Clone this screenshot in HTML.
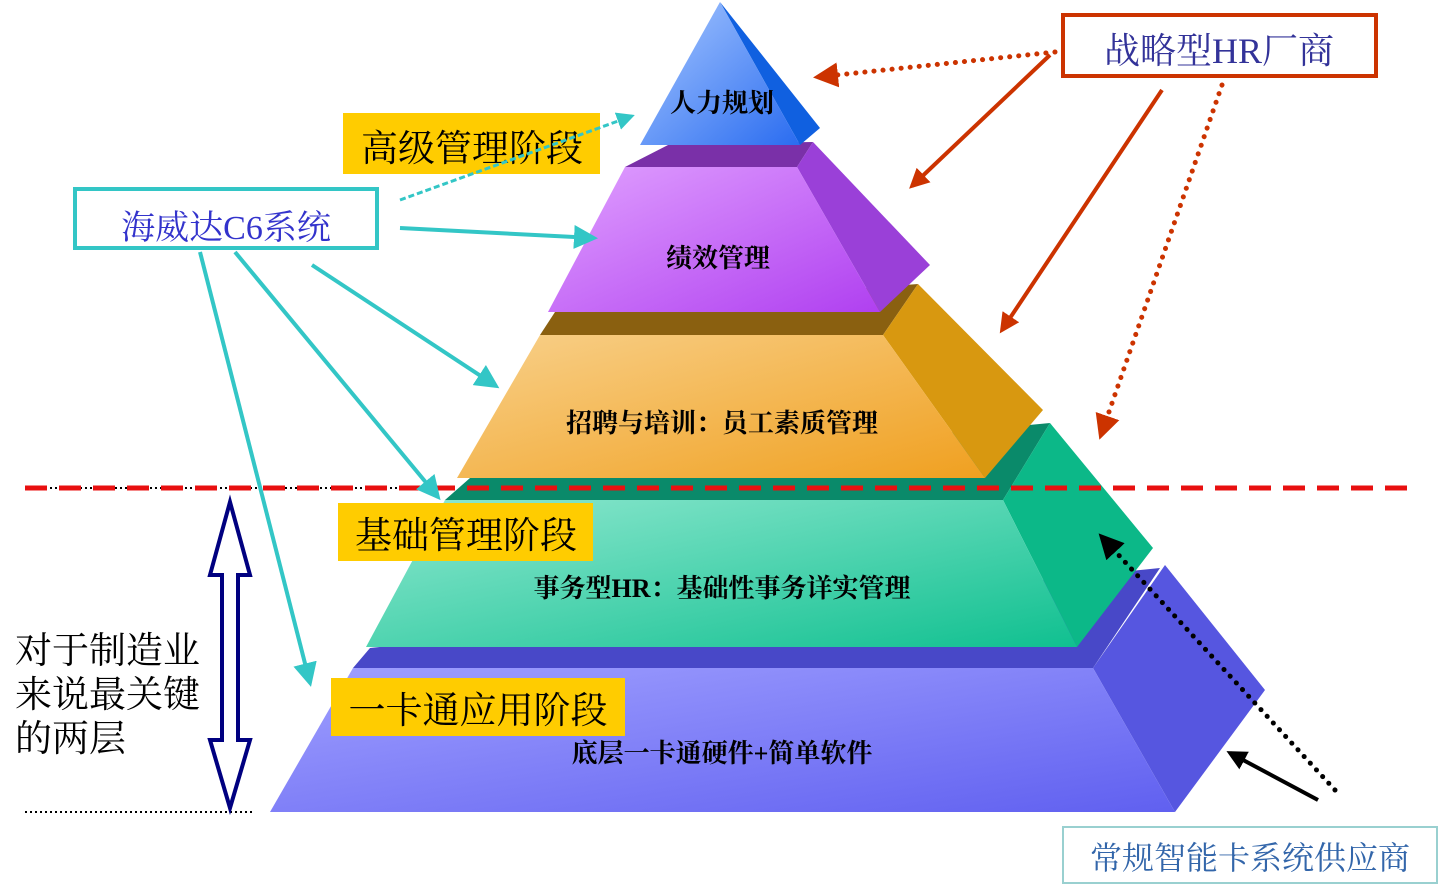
<!DOCTYPE html>
<html><head><meta charset="utf-8"><style>
body{margin:0;background:#fff;}
svg text{font-family:"Liberation Serif","Noto Serif CJK SC",serif;}
</style></head><body>
<svg width="1440" height="885" viewBox="0 0 1440 885" xmlns="http://www.w3.org/2000/svg">
<defs>
<linearGradient id="gb" x1="0" y1="0" x2="1" y2="1"><stop offset="0" stop-color="#a8c8ff"/><stop offset="1" stop-color="#2a6cf0"/></linearGradient>
<linearGradient id="gp" x1="0" y1="0" x2="1" y2="1"><stop offset="0" stop-color="#e0a0ff"/><stop offset="1" stop-color="#b040f0"/></linearGradient>
<linearGradient id="go" x1="0" y1="0" x2="1" y2="1"><stop offset="0" stop-color="#f8d08a"/><stop offset="1" stop-color="#f0a020"/></linearGradient>
<linearGradient id="gg" x1="0" y1="0" x2="1" y2="1"><stop offset="0" stop-color="#90e8d0"/><stop offset="1" stop-color="#10c090"/></linearGradient>
<linearGradient id="gv" x1="0" y1="0" x2="1" y2="1"><stop offset="0" stop-color="#a0a0ff"/><stop offset="1" stop-color="#6060f0"/></linearGradient>
<marker id="at" markerWidth="6" markerHeight="6" refX="5" refY="3" orient="auto" markerUnits="strokeWidth"><path d="M0,0 L6,3 L0,6 z" fill="#33C6C6"/></marker>
<marker id="ar" markerWidth="5" markerHeight="5" refX="4" refY="2.5" orient="auto" markerUnits="strokeWidth"><path d="M0,0 L5,2.5 L0,5 z" fill="#CC3300"/></marker>
<marker id="ak" markerWidth="5" markerHeight="5" refX="4" refY="2.5" orient="auto" markerUnits="strokeWidth"><path d="M0,0 L5,2.5 L0,5 z" fill="#000"/></marker>
</defs>
<polygon points="353,668 370,648 1160,568 1093,668" fill="#4848c8"/>
<polygon points="1093,668 1165,565 1265,690 1175,812" fill="#5656e0"/>
<polygon points="353,668 1093,668 1175,812 270,812" fill="url(#gv)"/>
<polygon points="445,500 470,478 1050,423 1003,500" fill="#0a8a6a"/>
<polygon points="1003,500 1050,423 1153,548 1077,647" fill="#0cb888"/>
<polygon points="445,500 1003,500 1077,647 366,647" fill="url(#gg)"/>
<polygon points="540,335 555,312 918,284 883,335" fill="#8a6010"/>
<polygon points="883,335 918,284 1043,410 985,478" fill="#d89810"/>
<polygon points="540,335 883,335 985,478 457,478" fill="url(#go)"/>
<polygon points="625,167 670,144 813,142 797,167" fill="#7a30a8"/>
<polygon points="797,167 813,142 930,265 880,312" fill="#9a40d8"/>
<polygon points="625,167 797,167 880,312 548,312" fill="url(#gp)"/>
<polygon points="720,2 820,128 800,145" fill="#1060e0"/>
<polygon points="720,2 800,145 640,145" fill="url(#gb)"/>
<line x1="25" y1="488" x2="440" y2="488" stroke="#000" stroke-width="2" stroke-dasharray="2,3"/>
<line x1="25" y1="488" x2="1410" y2="488" stroke="#e81010" stroke-width="5" stroke-dasharray="22,12"/>
<line x1="25" y1="812" x2="255" y2="812" stroke="#000" stroke-width="2" stroke-dasharray="2,3"/>
<polygon points="230,502 250,575 238,575 238,740 250,740 230,808 210,740 222,740 222,575 210,575" fill="#fff" stroke="#000080" stroke-width="4"/>
<g font-size="26" fill="#000" font-weight="bold">
<text x="722" y="112" text-anchor="middle">人力规划</text>
<text x="718" y="267" text-anchor="middle">绩效管理</text>
<text x="722" y="432" text-anchor="middle">招聘与培训：员工素质管理</text>
<text x="722" y="597" text-anchor="middle">事务型HR：基础性事务详实管理</text>
<text x="722" y="762" text-anchor="middle">底层一卡通硬件+简单软件</text>
</g>
<rect x="343" y="113" width="257" height="61" fill="#FFCC00"/>
<text x="472" y="161" font-size="37" text-anchor="middle">高级管理阶段</text>
<rect x="338" y="503" width="255" height="58" fill="#FFCC00"/>
<text x="466" y="548" font-size="37" text-anchor="middle">基础管理阶段</text>
<rect x="331" y="678" width="294" height="58" fill="#FFCC00"/>
<text x="478" y="723" font-size="37" text-anchor="middle">一卡通应用阶段</text>
<rect x="75" y="189" width="302" height="59" fill="#fff" stroke="#33C6C6" stroke-width="4"/>
<text x="226" y="239" font-size="34" fill="#3333CC" text-anchor="middle">海威达C6系统</text>
<rect x="1063" y="15" width="313" height="61" fill="#fff" stroke="#CC3300" stroke-width="4"/>
<text x="1219" y="63" font-size="36" fill="#333399" text-anchor="middle">战略型HR厂商</text>
<rect x="1063" y="827" width="374" height="56" fill="#fff" stroke="#99d0d0" stroke-width="2"/>
<text x="1250" y="869" font-size="32" fill="#3366AA" text-anchor="middle">常规智能卡系统供应商</text>
<g font-size="37" fill="#000" font-family="Liberation Sans,Noto Sans CJK SC,sans-serif">
<text x="15" y="663">对于制造业</text>
<text x="15" y="707">来说最关键</text>
<text x="15" y="751">的两层</text>
</g>
<g stroke="#33C6C6" stroke-width="4" fill="none">
<line x1="400" y1="228" x2="594" y2="238" marker-end="url(#at)"/>
<line x1="312" y1="265" x2="496" y2="386" marker-end="url(#at)"/>
<line x1="235" y1="252" x2="438" y2="497" marker-end="url(#at)"/>
<line x1="200" y1="252" x2="310" y2="683" marker-end="url(#at)"/>
<line x1="400" y1="200" x2="632" y2="116" stroke-dasharray="6,3" stroke-width="3" marker-end="url(#at)"/>
</g>
<g stroke="#CC3300" stroke-width="4" fill="none">
<line x1="1055" y1="52" x2="818" y2="77" stroke-dasharray="0.1,9" stroke-linecap="round" stroke-width="5" marker-end="url(#ar)"/>
<line x1="1050" y1="55" x2="912" y2="186" marker-end="url(#ar)"/>
<line x1="1162" y1="90" x2="1002" y2="330" marker-end="url(#ar)"/>
<line x1="1222" y1="85" x2="1101" y2="435" stroke-dasharray="0.1,9" stroke-linecap="round" stroke-width="5" marker-end="url(#ar)"/>
</g>
<line x1="1335" y1="790" x2="1102" y2="537" stroke="#000" stroke-width="5" stroke-dasharray="0.1,9" stroke-linecap="round" marker-end="url(#ak)"/>
<line x1="1318" y1="800" x2="1230" y2="753" stroke="#000" stroke-width="4" marker-end="url(#ak)"/>
</svg>
</body></html>
